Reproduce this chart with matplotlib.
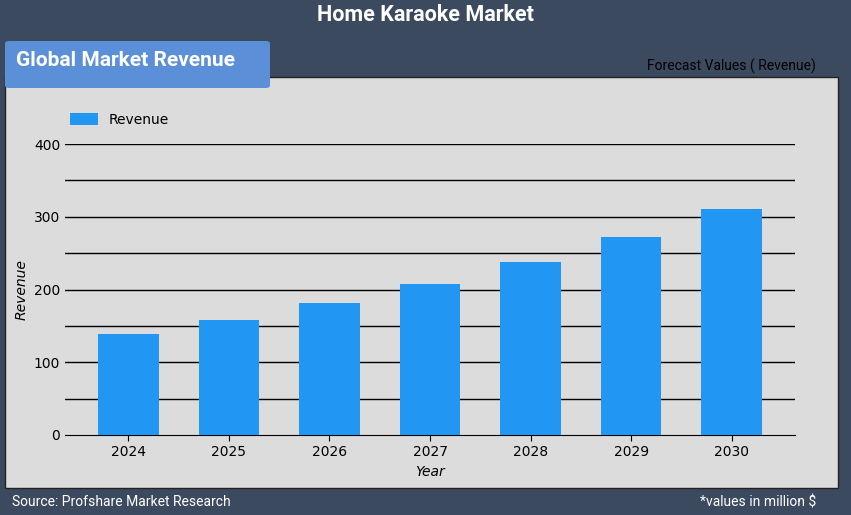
import matplotlib
matplotlib.use("Agg")
import matplotlib.pyplot as plt
from matplotlib.patches import FancyBboxPatch, Rectangle

years = ["2024", "2025", "2026", "2027", "2028", "2029", "2030"]
revenue = [139, 158, 181, 208, 238, 272, 310]
yticks = [0, 100, 200, 300, 400]

W, H = 851, 515
fig = plt.figure(figsize=(W/100, H/100), dpi=100)
fig.patch.set_facecolor("#3c4a5f")

def fx(x): return x / W
def fy(y): return 1 - y / H

fig.patches.append(Rectangle((fx(5), fy(488)), fx(838)-fx(5), fy(77)-fy(488),
                             transform=fig.transFigure, facecolor="#dcdcdc",
                             edgecolor="#222222", lw=1, zorder=0))
fig.patches.append(FancyBboxPatch((fx(5), fy(88)), fx(270)-fx(5), fy(41)-fy(88),
                                  boxstyle="round,pad=0,rounding_size=0.005",
                                  transform=fig.transFigure, facecolor="#5b8fd8",
                                  edgecolor="none", zorder=1))
fig.text(fx(16), fy(61), "Global Market Revenue", color="white", fontsize=15,
         fontweight="bold", family="Roboto", va="center", ha="left")
fig.text(0.5, fy(15), "Home Karaoke Market", color="white", fontsize=15.5,
         fontweight="bold", family="Roboto", va="center", ha="center")
fig.text(fx(816), fy(66), "Forecast Values ( Revenue)", color="black", fontsize=10,
         family="Roboto", va="center", ha="right")
fig.text(fx(12), fy(502), "Source: Profshare Market Research", color="white",
         fontsize=10, family="Roboto", va="center", ha="left")
fig.text(fx(816), fy(502), "*values in million $", color="white",
         fontsize=10, family="Roboto", va="center", ha="right")

ax = fig.add_axes([fx(65), fy(435), fx(795)-fx(65), fy(144)-fy(435)])
ax.set_zorder(10)
ax.set_facecolor("none")
ax.bar(years, revenue, width=0.6, color="#2196f3", label="Revenue", zorder=3)
ax.set_ylim(0, 400)
ax.set_yticks(yticks)
for v in range(50, 401, 50):
    ax.axhline(v, color="black", lw=1, zorder=1)
for s in ["top", "right", "left"]:
    ax.spines[s].set_visible(False)
ax.spines["bottom"].set_color("black")
ax.tick_params(axis="y", length=0, labelsize=10)
ax.tick_params(axis="x", length=4, labelsize=10)
ax.set_xlabel("Year", fontstyle="italic", fontsize=10)
ax.set_ylabel("Revenue", fontstyle="italic", fontsize=10)
ax.legend(loc="upper left", bbox_to_anchor=(-0.01, 1.15), frameon=False,
          fontsize=10, handlelength=2.0, handleheight=1.0)
fig.savefig("out.png", dpi=100, facecolor=fig.get_facecolor())
